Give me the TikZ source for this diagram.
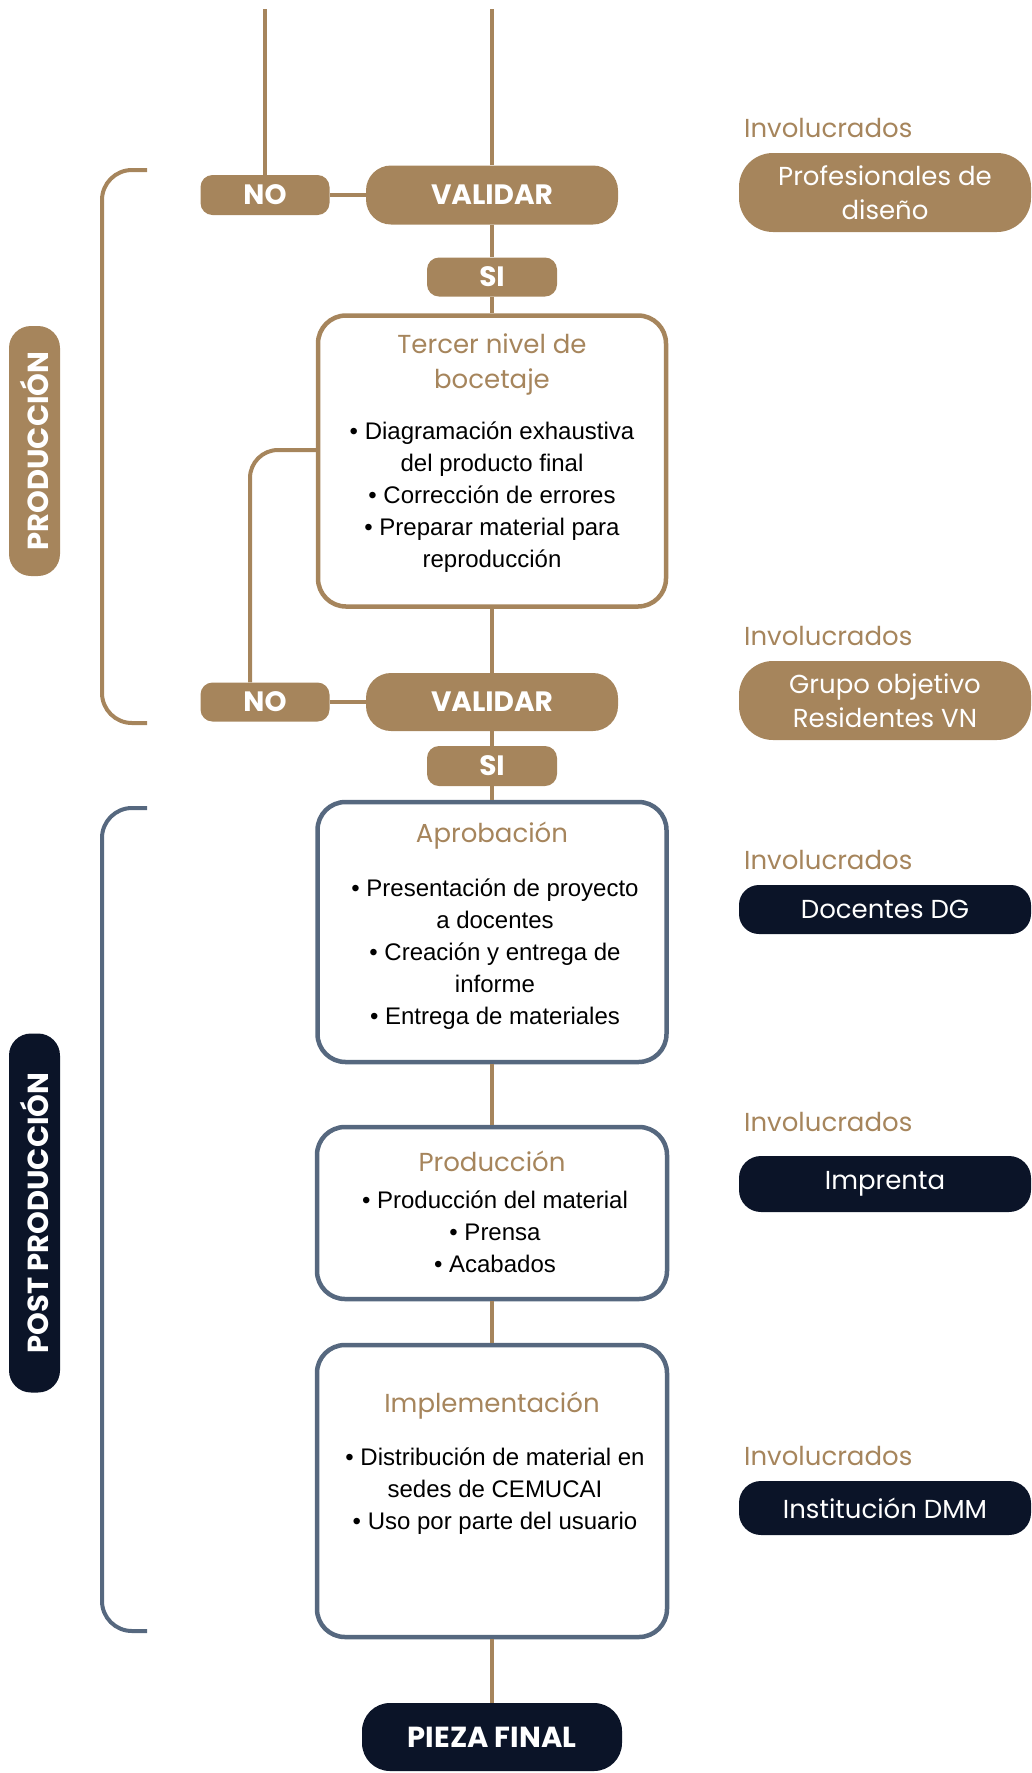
\documentclass[tikz,border=0pt]{standalone}
\usepackage{fontspec}
\setmainfont{Liberation Sans}
\newfontfamily\futura{Poppins}
\definecolor{gold}{HTML}{A6855C}
\definecolor{navy}{HTML}{0B1428}
\definecolor{slate}{HTML}{56687F}

\tikzset{
    flow/.style={line width=4pt, gold},
    brace/.style={line width=4pt, rounded corners=30pt},
    tag/.style={fill=gold, text=white, inner sep=0pt, rounded corners=12pt,
        font=\futura\bfseries\fontsize{28}{30}\selectfont},
    box/.style={line width=4.5pt, fill=white, rounded corners=28pt, inner sep=0pt},
    ttl/.style={text=gold, align=center, inner sep=0pt,
        font=\futura\fontsize{26}{35}\selectfont},
    pts/.style={align=center, inner sep=0pt, font=\fontsize{24}{32}\selectfont},
    sect/.style={rotate=90, text=white, inner sep=0pt, rounded corners=22pt,
        minimum height=51pt, font=\futura\bfseries\fontsize{29}{30}\selectfont},
    invol/.style={anchor=west, text=gold, inner sep=0pt,
        font=\futura\fontsize{26}{30}\selectfont},
    who/.style={text=white, align=center, inner sep=0pt, minimum width=292pt,
        font=\futura\fontsize{26}{34}\selectfont}
}

\begin{document}
\begin{tikzpicture}[x=1pt, y=-1pt]
    \useasboundingbox (0,0) rectangle (1032,1773);

    \coordinate (in-main) at (492,9);
    \coordinate (in-no) at (265,9);

    \node[tag, minimum width=252pt, minimum height=59pt, rounded corners=25pt] (val1) at (492,195) {VALIDAR};
    \node[tag, minimum width=129pt, minimum height=40pt] (no1) at (265,195) {NO};
    \node[tag, minimum width=130pt, minimum height=39pt] (si1) at (492,277) {SI};

    \node[box, draw=gold, minimum width=348pt, minimum height=291pt] (tercer) at (492,461) {};
    \node[ttl] (tercer-t) at (492,364) {Tercer nivel de\\bocetaje};
    \node[pts] (tercer-p) at (492,497) {• Diagramación exhaustiva\\del producto final\\• Corrección de errores\\• Preparar material para\\reproducción};

    \node[tag, minimum width=252pt, minimum height=58pt, rounded corners=25pt] (val2) at (492,702) {VALIDAR};
    \node[tag, minimum width=129pt, minimum height=39pt] (no2) at (265,702) {NO};
    \node[tag, minimum width=130pt, minimum height=40pt] (si2) at (492,766) {SI};

    \node[box, draw=slate, minimum width=349pt, minimum height=260pt] (aprob) at (492,932) {};
    \node[ttl] (aprob-t) at (492,836) {Aprobación};
    \node[pts] (aprob-p) at (495,954) {• Presentación de proyecto\\a docentes\\• Creación y entrega de\\informe\\• Entrega de materiales};

    \node[box, draw=slate, minimum width=350pt, minimum height=172pt] (prod) at (492,1213) {};
    \node[ttl] (prod-t) at (492,1161) {Producción};
    \node[pts] (prod-p) at (495,1232) {• Producción del material\\• Prensa\\• Acabados};

    \node[box, draw=slate, minimum width=350pt, minimum height=292pt] (impl) at (492,1491) {};
    \node[ttl] (impl-t) at (492,1406) {Implementación};
    \node[pts] (impl-p) at (495,1491) {• Distribución de material en\\sedes de CEMUCAI\\• Uso por parte del usuario};

    \node[tag, fill=navy, minimum width=260pt, minimum height=68pt, rounded corners=28pt,
        font=\futura\bfseries\fontsize{29}{30}\selectfont] (final) at (492,1737) {PIEZA FINAL};

    \draw[flow] (in-main) -- (val1);
    \draw[flow] (in-no) -- (no1);
    \draw[flow] (no1) -- (val1);
    \draw[flow] (val1) -- (si1);
    \draw[flow] (si1) -- (tercer);
    \draw[flow] (tercer) -- (val2);
    \draw[flow, rounded corners=28pt] ([yshift=11pt]tercer.west) -| ([xshift=-15pt]no2.north);
    \draw[flow] (no2) -- (val2);
    \draw[flow] (val2) -- (si2);
    \draw[flow] (si2) -- (aprob);
    \draw[flow] (aprob) -- (prod);
    \draw[flow] (prod) -- (impl);
    \draw[flow] (impl) -- (final);

    \draw[brace, gold] (147,170) -- (102,170) -- (102,723) -- (147,723);
    \draw[brace, slate] (147,808) -- (102,808) -- (102,1631) -- (147,1631);

    \node[sect, fill=gold, minimum width=250pt] (prod-lbl) at (34.5,451) {PRODUCCIÓN};
    \node[sect, fill=navy, minimum width=359pt] (post-lbl) at (34.5,1213) {POST PRODUCCIÓN};

    \foreach \n/\y in {1/128, 2/636, 3/860, 4/1122, 5/1456}
        \node[invol] (inv\n) at (744,\y) {Involucrados};

    \node[who, fill=gold, minimum height=79pt, rounded corners=34pt] (prof) at (885,192.5) {Profesionales de\\diseño};
    \node[who, fill=gold, minimum height=79pt, rounded corners=34pt] (grupo) at (885,700.5) {Grupo objetivo\\Residentes VN};
    \node[who, fill=navy, minimum height=49pt, rounded corners=20pt] (docentes) at (885,909.5) {Docentes DG};
    \node[who, fill=navy, minimum height=56pt, rounded corners=22pt] (imprenta) at (885,1184) {Imprenta};
    \node[who, fill=navy, minimum height=54pt, rounded corners=22pt] (dmm) at (885,1508) {Institución DMM};
\end{tikzpicture}
\end{document}
